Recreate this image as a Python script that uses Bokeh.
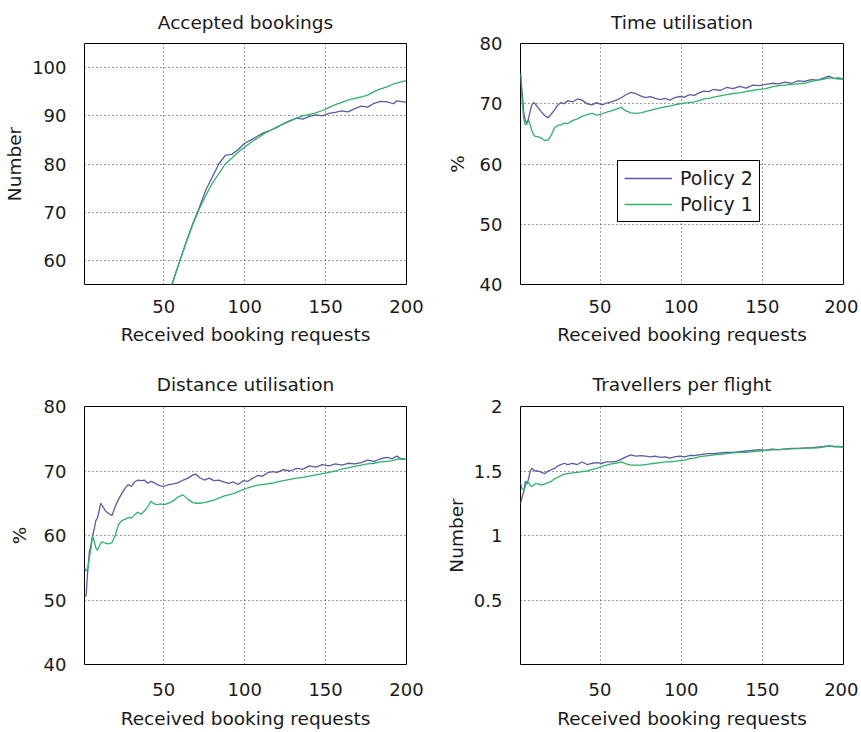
from bokeh.plotting import figure
from bokeh.layouts import gridplot
from bokeh.models import Range1d, Legend, LegendItem
from bokeh.embed import file_html
from bokeh.resources import INLINE

# ---------------- data ----------------
x_requests_ticks = [50, 100, 150, 200]
policy_labels = ["Policy 2", "Policy 1"]

# Accepted bookings
acc_x = [1, 50, 56, 60, 64, 68, 72, 76, 80, 84, 88, 92, 96, 100, 104, 108, 112, 116, 120,
         124, 128, 132, 136, 140, 144, 148, 152, 156, 160, 164, 168, 172, 176, 180, 184,
         188, 192, 194, 196, 200]
acc_p2 = [1, 50, 56, 60, 64, 67.7, 71.0, 74.6, 77.3, 80.0, 81.8, 82.0, 83.0, 84.3, 85.0,
          85.8, 86.5, 87.0, 87.6, 88.4, 89.0, 89.5, 89.3, 89.9, 90.2, 90.0, 90.5, 90.7,
          91.0, 90.8, 91.5, 92.0, 91.8, 92.6, 93.0, 92.9, 92.5, 93.1, 93.0, 92.8]
acc_p1 = [1, 50, 56, 60, 63.8, 67.5, 70.7, 73.5, 76.0, 78.0, 80.0, 81.2, 82.5, 83.5, 84.5,
          85.4, 86.3, 87.0, 87.7, 88.3, 88.9, 89.5, 90.0, 90.3, 90.6, 91.1, 91.7, 92.3,
          92.8, 93.3, 93.6, 93.9, 94.3, 95.0, 95.6, 96.0, 96.6, 96.8, 97.0, 97.3]
acc_yticks = [60, 70, 80, 90, 100]

# Time utilisation
time_x = [1, 2, 3, 4, 5, 6, 7, 8, 9, 10, 12, 14, 16, 18, 20, 22, 24, 26, 28, 30, 33, 36, 39,
          42, 45, 48, 51, 54, 57, 60, 63, 66, 69, 72, 75, 78, 81, 84, 87, 90, 93, 96, 99,
          102, 105, 108, 111, 114, 117, 120, 124, 128, 132, 136, 140, 144, 148, 152, 156,
          160, 164, 168, 172, 176, 180, 184, 188, 191, 194, 197, 200]
time_p2 = [75.0, 72.0, 68.5, 67.2, 66.8, 67.6, 68.8, 69.8, 70.2, 70.0, 69.3, 68.6, 68.0,
           67.7, 68.3, 69.0, 69.8, 70.2, 70.0, 70.5, 70.3, 70.8, 70.6, 70.0, 69.8, 70.2,
           69.8, 70.1, 70.3, 70.6, 71.0, 71.5, 71.9, 71.7, 71.3, 71.0, 71.2, 70.9, 70.7,
           70.9, 70.6, 71.0, 71.2, 71.1, 71.5, 71.4, 71.8, 72.1, 72.0, 72.4, 72.2, 72.7,
           72.5, 72.9, 72.6, 73.1, 73.0, 73.2, 73.4, 73.3, 73.6, 73.4, 73.8, 73.7, 74.0,
           73.9, 74.3, 74.6, 74.2, 74.3, 74.1]
time_p1 = [75.0, 70.5, 67.5, 66.5, 66.7, 67.3, 66.5, 65.5, 64.9, 64.6, 64.5, 64.3, 63.9,
           64.0, 64.8, 66.0, 66.4, 66.5, 66.8, 66.7, 67.2, 67.5, 67.9, 68.2, 68.4, 68.1,
           68.3, 68.6, 68.8, 69.1, 69.4, 68.8, 68.5, 68.4, 68.5, 68.7, 68.9, 69.1, 69.3,
           69.5, 69.6, 69.8, 70.0, 70.1, 70.2, 70.3, 70.5, 70.8, 70.9, 71.1, 71.3, 71.5,
           71.7, 71.8, 72.0, 72.2, 72.4, 72.5, 72.8, 73.0, 73.1, 73.2, 73.3, 73.4, 73.7,
           73.9, 74.1, 74.3, 74.2, 74.1, 74.1]
pct_yticks = [40, 50, 60, 70, 80]

# Distance utilisation
dist_x = [1, 2, 3, 4, 5, 6, 7, 8, 9, 10, 11, 12, 14, 16, 18, 20, 22, 24, 26, 28, 30, 32, 34,
          36, 38, 40, 42, 44, 46, 48, 50, 53, 56, 59, 62, 65, 68, 70, 72, 75, 78, 81, 84,
          87, 90, 93, 96, 99, 102, 105, 108, 111, 114, 117, 120, 124, 128, 132, 136, 140,
          144, 148, 152, 156, 160, 164, 168, 172, 176, 180, 184, 188, 191, 194, 197, 200]
dist_p2 = [50.5, 50.7, 54.5, 57.5, 58.5, 60.0, 61.0, 62.3, 62.7, 63.8, 65.0, 64.6, 63.8,
           63.4, 63.1, 64.5, 65.6, 66.5, 67.3, 67.9, 67.6, 68.3, 68.6, 68.5, 68.6, 68.1,
           68.4, 68.2, 67.9, 67.7, 67.6, 67.9, 68.0, 68.2, 68.6, 68.9, 69.4, 69.5, 69.0,
           68.6, 68.9, 68.5, 68.6, 68.3, 68.1, 68.3, 67.9, 68.5, 68.4, 68.9, 69.3, 69.2,
           69.7, 69.9, 69.8, 70.2, 70.0, 70.4, 70.3, 70.8, 70.6, 71.0, 70.8, 71.1, 70.9,
           71.2, 71.1, 71.3, 71.7, 71.5, 71.9, 72.1, 71.9, 72.3, 71.8, 71.8]
dist_p1 = [55.0, 54.5, 54.8, 56.5, 58.0, 59.9, 59.2, 58.1, 57.7, 58.3, 58.8, 59.0, 58.8,
           58.7, 58.9, 60.0, 61.7, 62.3, 62.5, 62.8, 62.7, 63.2, 63.6, 63.3, 63.8, 64.4,
           65.3, 64.9, 64.8, 64.9, 64.8, 65.0, 65.4, 66.0, 66.3, 65.6, 65.1, 65.0, 65.0,
           65.1, 65.3, 65.5, 65.8, 66.1, 66.3, 66.5, 66.8, 67.1, 67.4, 67.6, 67.8, 67.9,
           68.0, 68.1, 68.3, 68.5, 68.7, 68.9, 69.0, 69.2, 69.4, 69.6, 69.8, 70.0, 70.3,
           70.5, 70.7, 70.9, 71.1, 71.2, 71.4, 71.5, 71.6, 71.8, 71.9, 71.8]

# Travellers per flight
trav_x = [1, 2, 3, 4, 5, 6, 7, 8, 9, 10, 12, 14, 16, 18, 20, 22, 24, 26, 28, 30, 33, 36, 39,
          42, 45, 48, 51, 54, 57, 60, 63, 66, 69, 72, 75, 78, 81, 84, 87, 90, 93, 96, 99,
          102, 105, 108, 111, 114, 117, 120, 124, 128, 132, 136, 140, 144, 148, 152, 156,
          160, 164, 168, 172, 176, 180, 184, 188, 191, 194, 197, 200]
trav_p2 = [1.25, 1.30, 1.34, 1.42, 1.40, 1.44, 1.50, 1.52, 1.51, 1.50, 1.50, 1.49, 1.48,
           1.50, 1.51, 1.52, 1.54, 1.55, 1.56, 1.55, 1.56, 1.55, 1.57, 1.55, 1.56, 1.565,
           1.56, 1.57, 1.57, 1.575, 1.59, 1.61, 1.625, 1.615, 1.62, 1.615, 1.61, 1.615,
           1.605, 1.61, 1.60, 1.61, 1.615, 1.61, 1.62, 1.62, 1.625, 1.63, 1.635, 1.635,
           1.64, 1.645, 1.645, 1.65, 1.655, 1.66, 1.665, 1.66, 1.67, 1.665, 1.67, 1.675,
           1.675, 1.68, 1.68, 1.685, 1.69, 1.695, 1.69, 1.69, 1.685]
trav_p1 = [1.41, 1.36, 1.35, 1.38, 1.42, 1.41, 1.39, 1.38, 1.39, 1.40, 1.40, 1.39, 1.40,
           1.41, 1.42, 1.44, 1.45, 1.465, 1.475, 1.48, 1.485, 1.49, 1.495, 1.50, 1.51,
           1.52, 1.535, 1.545, 1.555, 1.56, 1.57, 1.555, 1.545, 1.545, 1.545, 1.55, 1.555,
           1.56, 1.565, 1.57, 1.57, 1.575, 1.58, 1.585, 1.595, 1.60, 1.61, 1.615, 1.62,
           1.625, 1.63, 1.635, 1.64, 1.645, 1.645, 1.65, 1.655, 1.66, 1.663, 1.665, 1.67,
           1.672, 1.673, 1.675, 1.678, 1.68, 1.688, 1.693, 1.69, 1.688, 1.686]
trav_yticks = [0.5, 1, 1.5, 2]

# ---------------- style ----------------
FONT = "DejaVu Sans"
BLUE = "#5a5aa8"
GREEN = "#2fb36a"
TXT = "#1a1a1a"


def make_fig(title, ylabel, yrange, yticks, width, height, bl, br, bt, bb,
             ylab_standoff, xtick_standoff, xlab_standoff, title_standoff,
             overrides=None):
    p = figure(width=width, height=height, x_range=Range1d(1, 200),
               y_range=Range1d(*yrange), output_backend="svg",
               toolbar_location=None, min_border_left=bl, min_border_right=br,
               min_border_top=bt, min_border_bottom=bb)
    p.title.text = title
    p.title.text_font = FONT
    p.title.text_font_size = "18.5px"
    p.title.text_font_style = "normal"
    p.title.text_color = TXT
    p.title.align = "center"
    p.title.vertical_align = "top"
    p.title.standoff = title_standoff
    p.outline_line_color = "black"
    p.outline_line_width = 1
    p.outline_line_alpha = 1
    p.background_fill_color = "white"
    p.border_fill_color = "white"

    p.xaxis.ticker = x_requests_ticks
    p.yaxis.ticker = yticks
    if overrides:
        p.yaxis.major_label_overrides = overrides
    for ax in (p.xaxis[0], p.yaxis[0]):
        ax.axis_line_color = None
        ax.major_tick_line_color = None
        ax.minor_tick_line_color = None
        ax.major_label_text_font = FONT
        ax.major_label_text_font_size = "18px"
        ax.major_label_text_color = TXT
        ax.axis_label_text_font = FONT
        ax.axis_label_text_font_size = "18.5px"
        ax.axis_label_text_font_style = "normal"
        ax.axis_label_text_color = TXT
    p.xaxis.axis_label = "Received booking requests"
    p.yaxis.axis_label = ylabel
    p.yaxis.major_label_standoff = 12
    p.yaxis.axis_label_standoff = ylab_standoff
    p.xaxis.major_label_standoff = xtick_standoff
    p.xaxis.axis_label_standoff = xlab_standoff

    for g in (p.xgrid[0], p.ygrid[0]):
        g.grid_line_color = "#222222"
        g.grid_line_dash = "1 3"
        g.grid_line_width = 1
        g.grid_line_alpha = 0.9
    return p


# top row height 360, bottom row 371 ; left column width 430, right 428
p1 = make_fig("Accepted bookings", "Number", (55, 105), acc_yticks,
              430, 360, 84, 24, 43, 76, 4, 9, 8, 18)
p2 = make_fig("Time utilisation", "%", (40, 80), pct_yticks,
              428, 360, 90, 15, 43, 76, 9, 9, 8, 18)
p3 = make_fig("Distance utilisation", "%", (40, 80), pct_yticks,
              430, 371, 84, 24, 46, 65, 11, 12, 9, 20)
p4 = make_fig("Travellers per flight", "Number", (0, 2), trav_yticks,
              428, 371, 90, 15, 46, 65, 4, 12, 9, 20,
              overrides={0.5: "0.5", 1: "1", 1.5: "1.5", 2: "2"})

lw = 1.3
p1.line(acc_x, acc_p2, line_color=BLUE, line_width=lw)
p1.line(acc_x, acc_p1, line_color=GREEN, line_width=lw)

r2b = p2.line(time_x, time_p2, line_color=BLUE, line_width=lw)
r2g = p2.line(time_x, time_p1, line_color=GREEN, line_width=lw)

p3.line(dist_x, dist_p2, line_color=BLUE, line_width=lw)
p3.line(dist_x, dist_p1, line_color=GREEN, line_width=lw)

p4.line(trav_x, trav_p2, line_color=BLUE, line_width=lw)
p4.line(trav_x, trav_p1, line_color=GREEN, line_width=lw)

legend = Legend(items=[LegendItem(label=policy_labels[0], renderers=[r2b]),
                       LegendItem(label=policy_labels[1], renderers=[r2g])],
                location=(97, 62), orientation="vertical")
legend.label_text_font = FONT
legend.label_text_font_size = "19px"
legend.label_text_color = TXT
legend.glyph_width = 48
legend.glyph_height = 20
legend.label_height = 20
legend.label_standoff = 8
legend.spacing = 4
legend.padding = 6
legend.margin = 0
legend.border_line_color = "black"
legend.border_line_width = 1
legend.border_line_alpha = 1
legend.background_fill_color = "white"
legend.background_fill_alpha = 1
p2.add_layout(legend, "center")

grid = gridplot([[p1, p2], [p3, p4]], toolbar_location=None)

open("out.html", "w").write(file_html(grid, INLINE))
